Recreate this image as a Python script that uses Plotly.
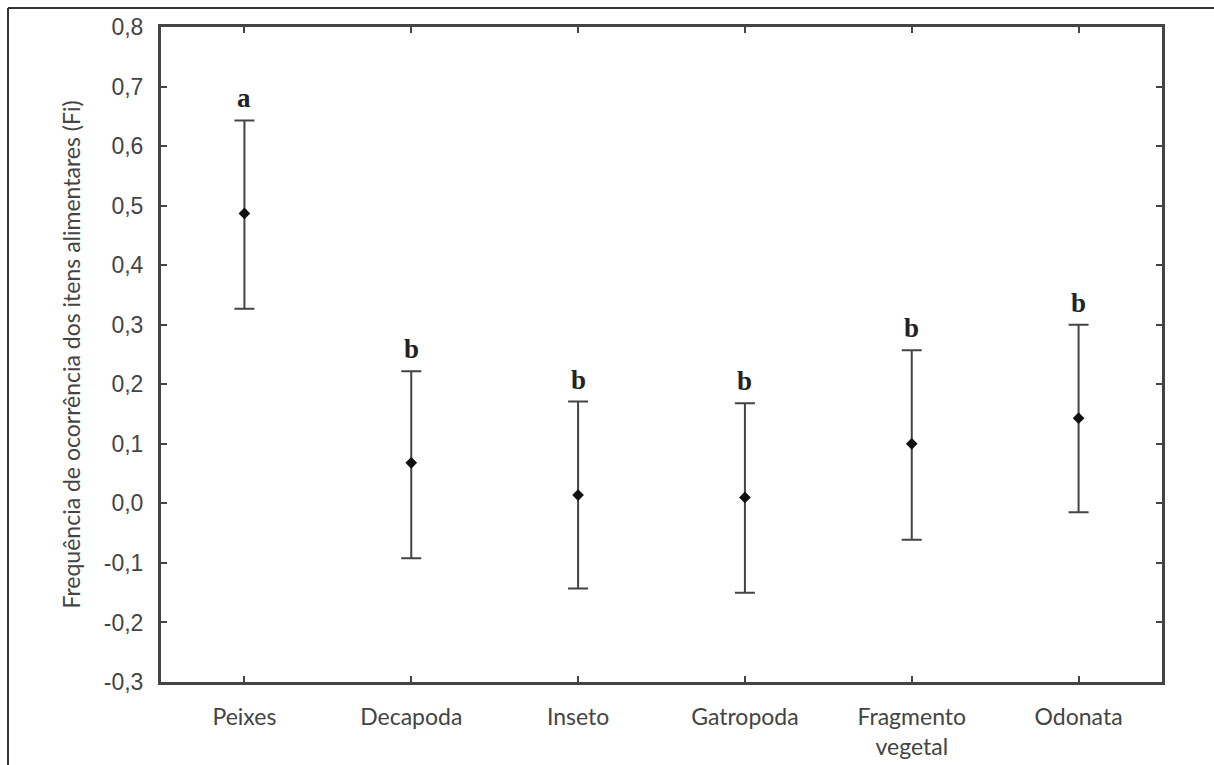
import plotly.graph_objects as go

categories = ["Peixes", "Decapoda", "Inseto", "Gatropoda", "Fragmento<br>vegetal", "Odonata"]
means = [0.487, 0.068, 0.014, 0.010, 0.100, 0.143]
upper = [0.643, 0.222, 0.171, 0.168, 0.257, 0.300]
lower = [0.327, -0.092, -0.143, -0.150, -0.061, -0.015]
letters = ["a", "b", "b", "b", "b", "b"]
yticks = [0.8, 0.7, 0.6, 0.5, 0.4, 0.3, 0.2, 0.1, 0.0, -0.1, -0.2, -0.3]
ytick_labels = [f"{v:.1f}".replace(".", ",") for v in yticks]

err_plus = [u - m for u, m in zip(upper, means)]
err_minus = [m - l for m, l in zip(means, lower)]

# body margin is removed in the page (post_script), figure fills the window
W, H = 1214, 765
L, R, T, B = 161, 52, 27, 83
pw, ph = W - L - R, H - T - B

fig = go.Figure()
fig.add_trace(go.Scatter(
    x=categories, y=means, mode="markers",
    marker=dict(symbol="diamond", size=9, color="#111"),
    error_y=dict(type="data", symmetric=False, array=err_plus, arrayminus=err_minus,
                 color="#444", thickness=2, width=10),
    showlegend=False,
))

for c, u, t in zip(categories, upper, letters):
    fig.add_annotation(x=c, y=u, text=f"<b>{t}</b>", showarrow=False,
                       yanchor="bottom", yshift=5,
                       font=dict(family="Liberation Serif", size=27, color="#222"))

axis_common = dict(showline=True, linecolor="#444", linewidth=3, mirror="ticks",
                   ticks="inside", ticklen=6, tickwidth=2, tickcolor="#444",
                   showgrid=False, zeroline=False, automargin=False)

fig.update_xaxes(range=[-0.5, 5.5], tickfont=dict(family="Lato", size=23, color="#444"),
                 ticklabelstandoff=12, **axis_common)
fig.update_yaxes(range=[-0.3, 0.8], tickvals=yticks, ticktext=ytick_labels,
                 tickfont=dict(family="Liberation Sans", size=23, color="#444"),
                 ticklabelstandoff=10,
                 title=dict(text="Frequência de ocorrência dos itens alimentares (Fi)",
                            font=dict(family="Lato", size=23, color="#444"), standoff=17),
                 **axis_common)

# outer frame (top and left edges)
x_left = (8 - L) / pw
y_top = 1 + (T - 8) / ph
fig.add_shape(type="line", xref="paper", yref="paper", x0=x_left, x1=(W - L) / pw,
              y0=y_top, y1=y_top, line=dict(color="#333", width=2))
fig.add_shape(type="line", xref="paper", yref="paper", x0=x_left, x1=x_left,
              y0=y_top, y1=-(B) / ph, line=dict(color="#333", width=2))

fig.update_layout(width=W, height=H, margin=dict(l=L, r=R, t=T, b=B, autoexpand=False),
                  plot_bgcolor="white", paper_bgcolor="white", hovermode=False)

fig.write_html("out.html", config={"displayModeBar": False, "staticPlot": True},
               post_script="document.body.style.margin='0';document.body.style.overflow='hidden';")
